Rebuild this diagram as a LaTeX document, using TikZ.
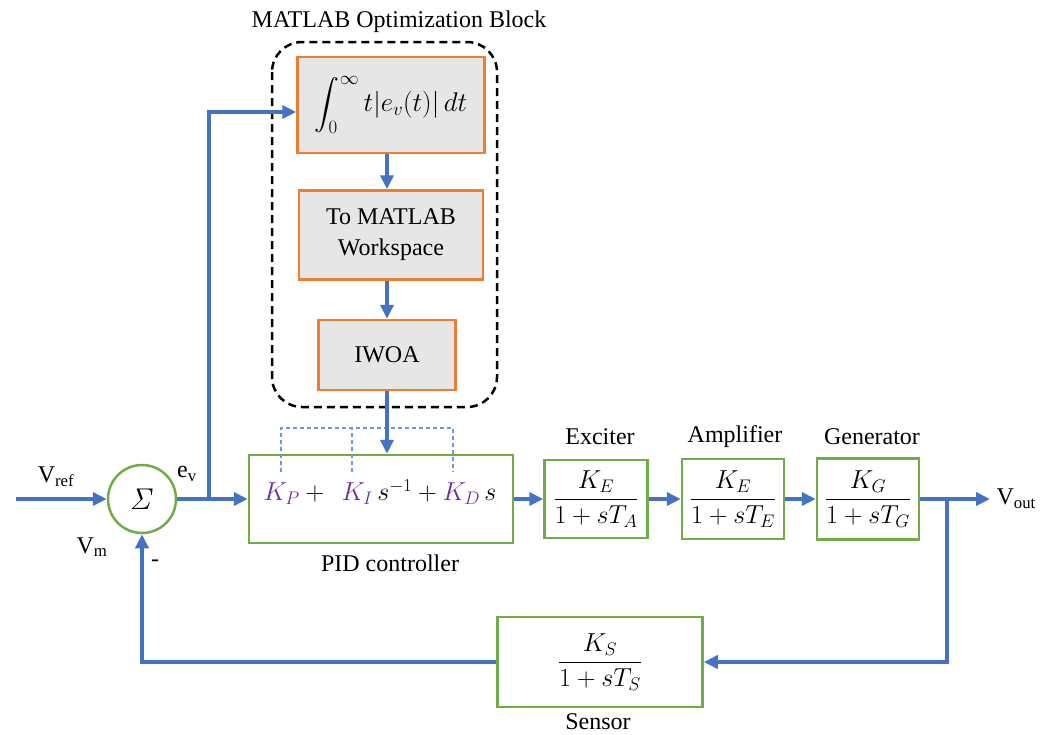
\RequirePackage{fix-cm}
\documentclass[tikz,border=0pt]{standalone}
\usepackage{amsmath}
\usepackage[no-math]{fontspec}
\setmainfont{Liberation Serif}
\usetikzlibrary{arrows.meta}

\definecolor{signalblue}{RGB}{68,114,196}
\definecolor{plantgreen}{RGB}{112,173,71}
\definecolor{optorange}{RGB}{237,125,49}
\definecolor{optgray}{RGB}{231,230,230}
\definecolor{gainpurple}{RGB}{112,48,160}

\tikzset{
    opt box/.style={draw=optorange, fill=optgray, line width=2.5pt, inner sep=0pt},
    plant box/.style={draw=plantgreen, fill=white, line width=2.5pt, inner sep=0pt,
        font=\fontsize{26}{30}\selectfont},
    sum/.style={circle, draw=plantgreen, line width=2.5pt, inner sep=0pt, minimum size=68pt},
    signal/.style={draw=signalblue, line width=3.5pt, -{Triangle[length=14pt,width=13pt]}},
    gain link/.style={draw=signalblue!75, line width=1.2pt, dash pattern=on 4pt off 3pt},
    opt group/.style={draw=black, line width=2.5pt, dash pattern=on 8pt off 5pt, rounded corners=30pt},
}

\begin{document}
\begin{tikzpicture}[x=1pt, y=-1pt, font=\rmfamily\fontsize{24}{29}\selectfont]
    \useasboundingbox (0,0) rectangle (1052,734);

    % optimisation part
    \draw[opt group] (272,42) rectangle (497,407);
    \node (title) at (399,22) {MATLAB Optimization Block};
    \node[opt box, minimum width=187pt, minimum height=96pt, font=\fontsize{27}{30}\selectfont]
        (integ) at (391,105) {$\displaystyle\int_0^\infty t|e_v(t)|\,dt$};
    \node[opt box, minimum width=184pt, minimum height=89pt, align=center,
          font=\fontsize{24}{31}\selectfont] (work) at (391,235) {To MATLAB\\Workspace};
    \node[opt box, minimum width=137pt, minimum height=70pt] (iwoa) at (387,355) {IWOA};

    % loop blocks
    \node[sum] (sum) at (142,499) {\fontsize{30}{32}\selectfont$\mathit{\Sigma}$};
    \node[plant box, minimum width=264pt, minimum height=88pt] (pid) at (381,499) {};
    \node[font=\fontsize{26}{30}\selectfont] (law) at (380,492)
        {${\color{gainpurple}K_P} +\;\, {\color{gainpurple}K_I}\, s^{-1} + {\color{gainpurple}K_D}\, s$};
    \node[plant box, minimum width=103pt, minimum height=78pt] (exc) at (596,499)
        {$\dfrac{K_E}{1+sT_A}$};
    \node[plant box, minimum width=102pt, minimum height=80pt] (amp) at (733,499)
        {$\dfrac{K_E}{1+sT_E}$};
    \node[plant box, minimum width=102pt, minimum height=81pt] (gen) at (868,499)
        {$\dfrac{K_G}{1+sT_G}$};
    \node[plant box, minimum width=205pt, minimum height=90pt] (sens) at (600,662)
        {$\dfrac{K_S}{1+sT_S}$};

    % labels
    \node (vref) at (56,477) {V\textsubscript{ref}};
    \node (vm) at (92,547) {V\textsubscript{m}};
    \node (ev) at (187,474) {e\textsubscript{v}};
    \node (minus) at (155,563) {-};
    \node (pidlab) at (390,563) {PID controller};
    \node (exclab) at (600,437) {Exciter};
    \node (amplab) at (735,437) {Amplifier};
    \node (genlab) at (872,437) {Generator};
    \node (senslab) at (598,722) {Sensor};

    \coordinate (vin) at (16,499);
    \coordinate (tap) at (209,499);
    \coordinate (vout) at (990,499);
    \coordinate (fb) at (947,499);
    \node[anchor=west] (voutlab) at (993,499) {V\textsubscript{out}};

    % gains from IWOA
    \coordinate (kp) at (281,472);
    \coordinate (ki) at (352,472);
    \coordinate (kd) at (453,472);
    \draw[gain link] (kp) -- ++(0,-44) -| (kd);
    \draw[gain link] (ki) -- ++(0,-44);

    % signals
    \draw[signal] (vin) -- (sum.west);
    \draw[signal] (sum.east) -- (pid.west);
    \draw[signal] (tap) |- ([yshift=-7pt]integ.west);
    \draw[signal] (integ.south -| iwoa.center) -- (work.north -| iwoa.center);
    \draw[signal] (work.south -| iwoa.center) -- (iwoa.north);
    \draw[signal] (iwoa.south) -- (iwoa.south |- pid.north);
    \draw[signal] (pid.east) -- (exc.west);
    \draw[signal] (exc.east) -- (amp.west);
    \draw[signal] (amp.east) -- (gen.west);
    \draw[signal] (gen.east) -- (vout);
    \draw[signal] (fb) |- (sens.east);
    \draw[signal] (sens.west) -| (sum.south);
\end{tikzpicture}
\end{document}
